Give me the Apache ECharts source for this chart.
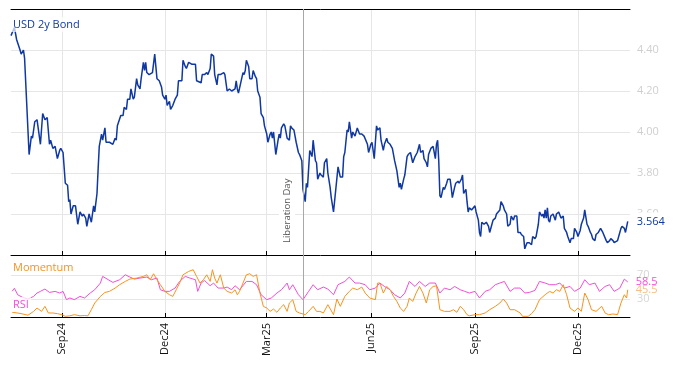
<!DOCTYPE html>
<html><head><meta charset="utf-8">
<script src="https://cdn.jsdelivr.net/npm/echarts@6/dist/echarts.min.js"></script>
<style>html,body{margin:0;padding:0;background:#fff}#c{width:674px;height:366px}</style>
</head><body><div id="c"></div>
<script>
// Dates are given as day offsets from baseDate
const baseDate = [2024, 8, 1]; // 2024-09-01 (UTC, month 0-based)
const xRangeDays = [-45, 502];
const tickDays = [0, 91, 181, 273, 365, 456]; // Sep24, Dec24, Mar25, Jun25, Sep25, Dec25
const eventDay = 213; // 2025-04-02
const eventName = 'Liberation Day';
const bondName = 'USD 2y Bond';
const momName = 'Momentum';
const rsiName = 'RSI';
const bondTicks = {min: 3.4, max: 4.6, interval: 0.2};
const oscTicks = [30, 70];

const bond = [[-45,4.47],[-42,4.51],[-40,4.45],[-37,4.40],[-36,4.38],[-34,4.40],[-33,4.36],[-29,3.89],[-27,3.98],[-26,3.97],[-24,4.05],[-22,4.06],[-19,3.94],[-17,4.09],[-15,4.06],[-13,4.07],[-11,3.94],[-10,3.96],[-8,3.92],[-6,3.93],[-4,3.87],[-2,3.91],[-1,3.92],[1,3.90],[3,3.75],[5,3.74],[6,3.66],[7,3.67],[8,3.60],[10,3.64],[12,3.64],[14,3.55],[16,3.61],[18,3.59],[19,3.60],[21,3.58],[22,3.54],[24,3.60],[26,3.56],[28,3.64],[29,3.61],[31,3.70],[32,3.82],[33,3.93],[35,3.99],[36,3.96],[38,4.02],[39,3.95],[42,3.95],[45,3.94],[47,3.97],[48,3.96],[49,4.03],[52,4.08],[54,4.08],[55,4.12],[57,4.11],[58,4.16],[60,4.16],[61,4.21],[63,4.16],[64,4.17],[66,4.26],[67,4.23],[69,4.21],[70,4.26],[72,4.34],[73,4.30],[74,4.34],[75,4.29],[77,4.28],[80,4.29],[82,4.38],[83,4.32],[84,4.26],[86,4.25],[88,4.22],[89,4.18],[91,4.16],[92,4.18],[93,4.13],[95,4.15],[96,4.11],[98,4.13],[100,4.16],[102,4.18],[103,4.25],[106,4.25],[107,4.35],[109,4.32],[110,4.31],[112,4.34],[115,4.33],[118,4.33],[119,4.25],[123,4.24],[124,4.28],[126,4.28],[128,4.29],[129,4.28],[131,4.31],[132,4.38],[134,4.37],[135,4.28],[137,4.23],[138,4.28],[140,4.28],[143,4.29],[144,4.28],[146,4.20],[148,4.21],[150,4.20],[151,4.20],[153,4.21],[154,4.25],[155,4.21],[156,4.19],[158,4.24],[160,4.29],[161,4.28],[162,4.30],[163,4.35],[165,4.32],[166,4.26],[168,4.26],[169,4.30],[171,4.27],[172,4.26],[173,4.20],[175,4.17],[176,4.09],[178,4.07],[179,4.03],[181,3.99],[182,3.95],[184,3.99],[185,4.00],[186,3.97],[187,4.00],[189,3.89],[191,3.96],[192,3.99],[193,3.97],[194,4.02],[196,4.04],[197,4.03],[199,3.97],[201,3.96],[202,4.03],[203,4.02],[205,4.01],[207,3.95],[209,3.90],[210,3.89],[212,3.86],[213,3.72],[215,3.66],[216,3.75],[217,3.73],[218,3.82],[219,3.91],[221,3.88],[222,3.96],[224,3.86],[225,3.85],[226,3.77],[228,3.80],[229,3.79],[231,3.78],[232,3.85],[234,3.87],[235,3.80],[237,3.73],[238,3.68],[240,3.61],[242,3.72],[244,3.83],[245,3.83],[246,3.78],[248,3.78],[249,3.88],[250,3.90],[252,4.01],[253,4.00],[254,4.05],[256,3.97],[257,4.00],[259,3.98],[261,4.02],[263,3.99],[265,3.99],[267,3.98],[268,3.98],[270,3.94],[271,3.90],[273,3.94],[274,3.95],[276,3.87],[277,3.95],[278,4.03],[279,4.01],[281,4.02],[282,3.96],[284,3.91],[285,3.94],[287,3.97],[288,3.95],[290,3.94],[292,3.92],[294,3.86],[296,3.81],[297,3.77],[298,3.73],[299,3.75],[300,3.72],[302,3.77],[303,3.79],[305,3.88],[306,3.89],[308,3.90],[310,3.85],[312,3.88],[314,3.90],[316,3.94],[317,3.90],[319,3.91],[320,3.87],[322,3.85],[323,3.83],[324,3.89],[326,3.92],[328,3.93],[330,3.87],[331,3.94],[332,3.96],[333,3.86],[334,3.69],[335,3.68],[337,3.73],[338,3.72],[340,3.75],[341,3.77],[343,3.77],[344,3.73],[345,3.68],[347,3.73],[348,3.75],[350,3.76],[351,3.75],[353,3.77],[354,3.79],[355,3.70],[357,3.72],[358,3.66],[359,3.61],[360,3.63],[362,3.62],[363,3.62],[365,3.64],[366,3.61],[368,3.57],[369,3.51],[370,3.49],[371,3.56],[373,3.55],[375,3.56],[377,3.54],[378,3.51],[380,3.55],[381,3.57],[383,3.58],[384,3.60],[385,3.60],[387,3.62],[388,3.66],[390,3.64],[391,3.62],[393,3.60],[394,3.54],[396,3.55],[397,3.59],[399,3.57],[400,3.59],[402,3.59],[403,3.51],[405,3.51],[406,3.50],[408,3.49],[409,3.43],[411,3.46],[412,3.46],[413,3.46],[415,3.45],[416,3.49],[418,3.48],[419,3.49],[421,3.55],[422,3.61],[424,3.59],[425,3.60],[426,3.58],[427,3.62],[428,3.58],[429,3.63],[430,3.57],[431,3.56],[432,3.59],[434,3.60],[436,3.57],[437,3.60],[439,3.61],[440,3.61],[441,3.58],[443,3.59],[444,3.53],[446,3.51],[447,3.49],[449,3.46],[450,3.48],[452,3.48],[453,3.53],[455,3.51],[456,3.49],[458,3.52],[459,3.55],[461,3.58],[462,3.62],[464,3.55],[465,3.54],[467,3.51],[468,3.50],[469,3.48],[471,3.47],[472,3.50],[474,3.51],[476,3.53],[478,3.51],[479,3.51],[481,3.47],[482,3.46],[484,3.47],[485,3.48],[487,3.47],[488,3.46],[489,3.46],[491,3.47],[492,3.49],[494,3.53],[495,3.54],[497,3.53],[498,3.51],[500,3.564]];

const rsi = [[-44,43],[-42,48],[-39,37],[-35,33],[-30,30],[-25,34.4],[-22,40],[-19,42.8],[-15,46.7],[-11,41],[-6,42.8],[-2,40],[1,42.8],[4,29],[7,31.7],[11,29],[16,34.4],[20,31.7],[25,40],[29,45.5],[34,56.7],[36,67.8],[41,62.2],[45,57.8],[51,62.2],[56,70.5],[60,66.7],[64,63.3],[69,65],[75,66.7],[79,62.2],[84,65],[87,45.5],[91,42.8],[95,42.8],[100,48.3],[104,59.4],[109,67.8],[113,65],[118,62.2],[120,42.8],[123,56.7],[126,61],[131,52.2],[134,56.7],[138,48.3],[143,48.3],[146,50],[150,45.5],[153,52.2],[157,45.5],[163,59.4],[168,59.4],[172,53.9],[176,37.2],[181,28.9],[185,31.7],[190,40],[194,45.5],[199,56.7],[201,45.5],[204,53.9],[209,37.2],[213,28.9],[218,42.8],[222,53.9],[226,45.5],[231,50],[235,46.7],[240,37.2],[244,53.9],[250,59.4],[254,66.7],[259,56.7],[263,56.7],[268,53.9],[272,45.5],[277,48.3],[281,56.7],[285,51],[290,45.5],[294,37.2],[299,31.7],[303,40],[307,59.4],[312,51],[316,59.4],[321,51],[325,56.7],[330,56.7],[334,40],[338,48.3],[343,45.5],[347,51],[352,45.5],[356,42.8],[360,40],[365,42.8],[369,31.7],[374,42.8],[378,45.5],[383,53.9],[387,56.7],[391,59.4],[396,42.8],[400,48.3],[405,48.3],[409,40],[413,41],[418,44.4],[422,59.4],[427,56.7],[431,53.9],[436,53.9],[440,56.7],[444,48.3],[449,51],[453,42.8],[458,48.3],[462,62.2],[466,53.9],[471,56.7],[475,42.8],[480,51],[484,53.9],[488,42.8],[493,48.3],[497,63.3],[500,58.5]];

const momentum = [[-44,8],[-37,6],[-30,3],[-25,9.4],[-22,15],[-18,9.4],[-15,17.8],[-12,6.7],[-8,6.7],[-4,5.6],[0,3.9],[3,1.1],[7,2],[11,3.9],[16,2],[20,2.5],[23,2],[26,12.2],[29,23.3],[34,34.4],[38,41],[42,42.8],[47,48.3],[51,53.9],[56,59.4],[60,63.3],[66,65],[72,67.8],[75,70.5],[78,62.2],[81,72.2],[84,62.2],[87,53.9],[91,42.8],[95,37.2],[98,34.4],[101,45.5],[104,56.7],[107,70.5],[112,76.1],[116,78.9],[119,67.8],[122,56.7],[125,62.2],[128,70.5],[131,59.4],[133,78.9],[135,65],[137,56.7],[140,70.5],[143,48.3],[146,42.8],[150,40],[153,45.5],[155,37.2],[157,42.8],[160,56.7],[163,70.5],[166,72.2],[169,67.8],[172,70.5],[175,40],[178,17.8],[181,15],[184,9.4],[187,13.3],[190,7.8],[193,15],[196,20.6],[199,9.4],[201,23.3],[204,28.9],[207,9.4],[210,6.7],[215,3.9],[218,9.4],[222,17.8],[225,9.4],[228,9.4],[231,6.7],[235,20.6],[240,3.9],[243,30],[246,17.8],[250,34.4],[254,42.8],[257,48.3],[261,45.5],[265,50],[268,40],[272,31.7],[277,28.9],[279,56.7],[281,56.7],[284,40],[287,51],[290,45.5],[293,34.4],[296,26],[299,15],[302,9.4],[305,17.8],[307,31.7],[310,26],[313,40],[316,51],[319,40],[322,23.3],[325,45.5],[328,51],[331,52],[332,53.9],[334,12.2],[338,9.4],[343,9.4],[346,12.2],[349,7.8],[352,17.8],[355,12.2],[358,3.9],[360,2],[365,3.9],[369,3.9],[374,6.7],[378,12.2],[383,17.8],[387,23.3],[390,30],[393,23.3],[396,12.2],[400,12.2],[405,6.7],[407,1.1],[412,1.1],[415,5.6],[418,12.2],[422,28.9],[427,37.2],[431,42.8],[434,40],[437,45.5],[440,42.8],[443,53.9],[446,37.2],[449,15],[453,9.4],[456,15],[459,9.4],[462,40],[465,28.9],[468,12.2],[472,9.4],[477,17.8],[480,6.7],[483,3.9],[487,5],[491,3.9],[494,23.3],[497,37.2],[499,31.7],[500,45.5]];

const DAY = 86400000;
const base = Date.UTC(baseDate[0], baseDate[1], baseDate[2]);
const ts = d => base + d * DAY;
const toXY = arr => arr.map(p => [ts(p[0]), p[1]]);
const MONTHS = ['Jan','Feb','Mar','Apr','May','Jun','Jul','Aug','Sep','Oct','Nov','Dec'];
const fmtTick = v => { const d = new Date(v); return MONTHS[d.getUTCMonth()] + String(d.getUTCFullYear()).slice(2); };

const BLUE = '#0f38a3', ORANGE = '#f7931e', MAGENTA = '#f24fd6';
const FONT = 'Open Sans';
const GRID_C = '#e6e6e6';
const tickVals = tickDays.map(ts);

const chart = echarts.init(document.getElementById('c'), null, {renderer: 'canvas'});
function xAx(gridIndex, showLabel) {
  return {
    type: 'value', gridIndex, min: ts(xRangeDays[0]), max: ts(xRangeDays[1]), scale: true,
    axisLine: {show: true, lineStyle: {color: '#000', width: 1}},
    axisTick: {show: true, inside: true, length: 4, customValues: tickVals, lineStyle: {color: '#000'}},
    axisLabel: {show: showLabel, customValues: tickVals, formatter: fmtTick, rotate: 90, margin: 6,
      color: '#111', fontSize: 11, fontFamily: FONT},
    splitLine: {show: true, lineStyle: {color: GRID_C}}
  };
}
function topAx(gridIndex) {
  return {type: 'value', gridIndex, position: 'top', min: ts(xRangeDays[0]), max: ts(xRangeDays[1]), scale: true,
    axisLine: {show: true, lineStyle: {color: '#000'}}, axisTick: {show: false}, axisLabel: {show: false}, splitLine: {show: false}};
}
chart.setOption({
  animation: false,
  backgroundColor: '#fff',
  title: [
    {text: bondName, left: 11, top: 17, padding: [2, 2], backgroundColor: 'rgba(255,255,255,0.7)',
     textStyle: {color: BLUE, fontSize: 11, fontWeight: 'normal', fontFamily: FONT}},
    {text: momName, left: 11, top: 260, padding: [2, 2], backgroundColor: 'rgba(255,255,255,0.7)',
     textStyle: {color: ORANGE, fontSize: 11, fontWeight: 'normal', fontFamily: FONT}},
    {text: rsiName, left: 11, top: 297, padding: [2, 2], backgroundColor: 'rgba(255,255,255,0.75)',
     textStyle: {color: MAGENTA, fontSize: 11, fontWeight: 'normal', fontFamily: FONT}}
  ],
  grid: [
    {left: 11, right: 44, top: 9, height: 246},
    {left: 11, right: 44, top: 255, height: 62}
  ],
  xAxis: [xAx(0, false), xAx(1, true), topAx(0)],
  yAxis: [
    {type: 'value', gridIndex: 0, position: 'right', min: bondTicks.min, max: bondTicks.max, interval: bondTicks.interval,
     axisLine: {show: false}, axisTick: {show: false},
     axisLabel: {color: '#cfcfcf', fontSize: 11, fontFamily: FONT, margin: 7,
       formatter: v => (v <= bondTicks.min + 1e-9 || v >= bondTicks.max - 1e-9) ? '' : v.toFixed(2)},
     splitLine: {show: true, lineStyle: {color: GRID_C}}},
    {type: 'value', gridIndex: 1, position: 'right', min: 0, max: 103.5,
     axisLine: {show: false}, axisTick: {show: false, customValues: oscTicks},
     axisLabel: {customValues: oscTicks, color: '#d6d6d6', fontSize: 11, fontFamily: FONT, margin: 7},
     splitLine: {show: true, lineStyle: {color: GRID_C}}}
  ],
  series: [
    {name: bondName, type: 'line', xAxisIndex: 0, yAxisIndex: 0, data: toXY(bond), showSymbol: false,
     lineStyle: {color: BLUE, width: 1.5}, itemStyle: {color: BLUE}, z: 3,
     endLabel: {show: true, distance: 8, color: BLUE, fontSize: 11, fontFamily: FONT, backgroundColor: '#fff', padding: [5, 2, 2, 1],
       formatter: p => p.value[1].toFixed(3)},
     markLine: {silent: true, symbol: 'none', animation: false,
       lineStyle: {color: '#a8a8a8', width: 1, type: 'solid'},
       label: {show: true, position: 'insideStartTop', formatter: eventName, color: '#555', fontSize: 9.5, fontFamily: FONT,
         backgroundColor: '#fff', padding: [3, 2], distance: [10, 8]},
       data: [{xAxis: ts(eventDay)}]}},
    {name: rsiName, type: 'line', xAxisIndex: 1, yAxisIndex: 1, data: toXY(rsi), showSymbol: false,
     lineStyle: {color: MAGENTA, width: 1}, itemStyle: {color: MAGENTA}, z: 2,
     endLabel: {show: true, distance: 8, color: MAGENTA, fontSize: 11, fontFamily: FONT, formatter: p => String(p.value[1])},
     markLine: {silent: true, symbol: 'none', animation: false, label: {show: false},
       lineStyle: {color: '#a8a8a8', width: 1, type: 'solid'}, data: [{xAxis: ts(eventDay)}]}},
    {name: momName, type: 'line', xAxisIndex: 1, yAxisIndex: 1, data: toXY(momentum), showSymbol: false,
     lineStyle: {color: ORANGE, width: 1}, itemStyle: {color: ORANGE}, z: 3,
     endLabel: {show: true, distance: 8, color: '#f9bd85', fontSize: 11, fontFamily: FONT, formatter: p => String(p.value[1])}}
  ]
});
</script></body></html>
